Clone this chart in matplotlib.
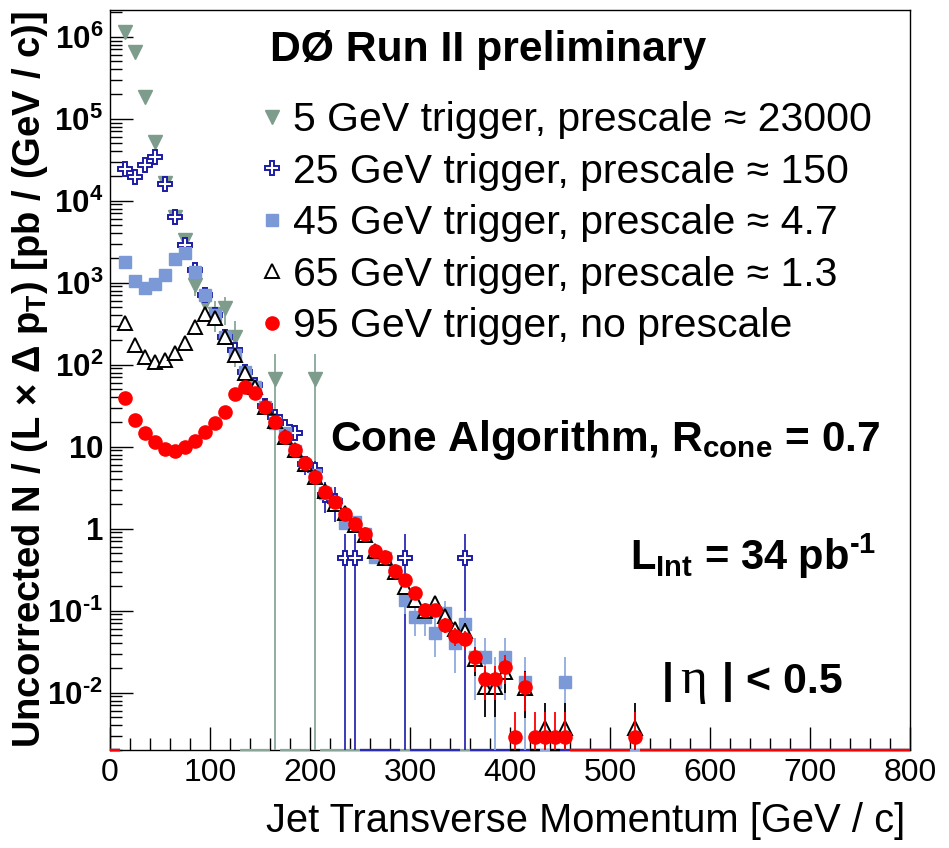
import numpy as np
import matplotlib
matplotlib.use("Agg")
import matplotlib.pyplot as plt
from matplotlib.lines import Line2D
from matplotlib.ticker import FixedLocator, MultipleLocator, LogLocator, FuncFormatter, NullFormatter

plt.rcParams["font.family"] = ["Liberation Sans", "DejaVu Sans"]
plt.rcParams["mathtext.fontset"] = "custom"
plt.rcParams["mathtext.rm"] = "Liberation Sans"
plt.rcParams["mathtext.it"] = "Liberation Sans:italic"
plt.rcParams["mathtext.bf"] = "Liberation Sans:bold"
plt.rcParams["mathtext.fallback"] = "stixsans"

HYPHEN = "\u2010"

# ---- jet pT bin centres [GeV/c] and uncorrected rates [pb/(GeV/c)] per trigger ----
pt_5 = [15, 25, 35, 45, 55, 65, 75, 85, 95, 105, 115, 125, 165, 205]
rate_5 = [1.15e6, 6.45e5, 1.85e5, 5.24e4, 1.64e4, 6380, 3318, 937, 560, 420, 487, 219,
          66.7, 66.7]

pt_25 = [15, 25, 35, 45, 55, 65, 75, 85, 95, 105, 115, 125, 135, 145, 155, 165, 175,
         185, 195, 205, 215, 225, 235, 245, 295, 355]
rate_25 = [24150, 19620, 27240, 33840, 15850, 6380, 2924, 1428, 700, 400, 215, 151, 82,
           56, 31, 23, 17.2, 14.6, 6.1, 5.2, 2.6, 2.2, 0.435, 0.435, 0.435, 0.435]

pt_45 = [15, 25, 35, 45, 55, 65, 75, 85, 95, 105, 115, 125, 135, 145, 155, 165, 175,
         185, 195, 205, 215, 225, 235, 245, 255, 265, 275, 285, 295, 305, 315, 325,
         335, 345, 355, 365, 375, 385, 395, 415, 455]
rate_45 = [1803, 1049, 855, 964, 1241, 1929, 2322, 1339, 708, 404, 216, 131, 82.2, 53.9,
           30.7, 19.6, 14.6, 8.9, 5.98, 4.52, 2.70, 2.08, 1.16, 1.22, 0.861, 0.456, 0.44,
           0.30, 0.135, 0.083, 0.083, 0.054, 0.0946, 0.0407, 0.0689, 0.0275, 0.0275,
           0.0136, 0.0275, 0.0136, 0.0136]

pt_65 = [15, 25, 35, 45, 55, 65, 75, 85, 95, 105, 115, 125, 135, 145, 155, 165, 175,
         185, 195, 205, 215, 225, 235, 245, 255, 265, 275, 285, 295, 305, 315, 325,
         335, 345, 355, 365, 375, 385, 395, 415, 435, 455, 525]
rate_65 = [320, 174, 125, 109, 114, 140, 182, 290, 412, 368, 216, 131, 79.8, 53.9, 30.7,
           20.5, 13.0, 9.2, 6.1, 4.3, 2.9, 2.0, 1.55, 1.12, 0.84, 0.53, 0.44, 0.30, 0.196,
           0.135, 0.10, 0.124, 0.086, 0.059, 0.057, 0.026, 0.0118, 0.0118, 0.018, 0.0115,
           0.0037, 0.0037, 0.0037]

pt_95 = [15, 25, 35, 45, 55, 65, 75, 85, 95, 105, 115, 125, 135, 145, 155, 165, 175,
         185, 195, 205, 215, 225, 235, 245, 255, 265, 275, 285, 295, 305, 315, 325,
         335, 345, 355, 365, 375, 385, 395, 405, 415, 425, 435, 445, 455, 525]
rate_95 = [39.6, 21.2, 14.8, 11.5, 9.4, 8.9, 10.0, 11.7, 15.2, 19.3, 26.3, 43.9, 53.9,
           44.8, 30.5, 20.3, 13.3, 9.0, 6.28, 4.24, 2.83, 2.10, 1.51, 1.14, 0.861, 0.539,
           0.446, 0.305, 0.240, 0.163, 0.102, 0.102, 0.067, 0.0496, 0.0448, 0.0270,
           0.01456, 0.01456, 0.0207, 0.0029, 0.01183, 0.0029, 0.0029, 0.0029, 0.0029,
           0.0029]

labels = ["5 GeV trigger, prescale \u2248 23000",
          "25 GeV trigger, prescale \u2248 150",
          "45 GeV trigger, prescale \u2248 4.7",
          "65 GeV trigger, prescale \u2248 1.3",
          "95 GeV trigger, no prescale"]
prescales = [23000, 150, 4.7, 1.3, 1.0]
single_event_rate = 0.0029   # rate of one unprescaled event per 10 GeV bin

W, H = 949, 848
def fx(p):
    return p / W
def fy(p):
    return 1 - p / H

fig = plt.figure(figsize=(W / 100, H / 100), dpi=100)
ax = fig.add_axes([fx(110), fy(750), 800 / W, 740 / H])
ax.set_xlim(0, 800)
ax.set_yscale("log", nonpositive="clip")
YMIN, YMAX = 2.0e-3, 2.12e6
ax.set_ylim(YMIN, YMAX)

styles = [
    dict(marker="v", ms=10, mfc="#7d9c8c", mec="#7d9c8c", mew=1.0, ecolor="#8aa698"),
    dict(marker="P", ms=10.5, mfc="white", mec="#1c1ca6", mew=1.4, ecolor="#2b2bb3"),
    dict(marker="s", ms=8.5, mfc="#7a99d6", mec="#7a99d6", mew=1.0, ecolor="#8eaadf"),
    dict(marker="^", ms=10, mfc="white", mec="black", mew=1.4, ecolor="black"),
    dict(marker="o", ms=9.5, mfc="#ff0000", mec="#ff0000", mew=1.0, ecolor="#ff0000"),
]
series = [(pt_5, rate_5), (pt_25, rate_25), (pt_45, rate_45), (pt_65, rate_65),
          (pt_95, rate_95)]

bin_centres = np.arange(5, 800, 10)
for k, ((pt, rate), st, ps) in enumerate(zip(series, styles, prescales)):
    pt = np.asarray(pt, float)
    rate = np.asarray(rate, float)
    # Poisson uncertainty from the number of recorded events in each bin
    n_ev = np.maximum(np.round(rate / (single_event_rate * ps)), 1)
    err = rate / np.sqrt(n_ev)
    lo = rate - np.maximum(rate - err, 1e-12)
    st = dict(st)
    ecol = st.pop("ecolor")
    ax.errorbar(pt, rate, yerr=[lo, err], fmt=st.pop("marker"), ls="none",
                ecolor=ecol, elinewidth=1.3, capsize=0, zorder=3 + k, **st)
    # empty bins sit on the lower edge of the frame
    empty = [c for c in bin_centres if not np.any(np.isclose(pt, c))]
    ax.hlines([YMIN] * len(empty), np.array(empty) - 5, np.array(empty) + 5,
              colors=ecol, lw=1.6, clip_on=False, zorder=3 + k)

# axes cosmetics
ax.xaxis.set_major_locator(MultipleLocator(100))
ax.xaxis.set_minor_locator(MultipleLocator(20))
ax.yaxis.set_major_locator(FixedLocator([10.0 ** e for e in range(-2, 7)]))
ax.yaxis.set_minor_locator(LogLocator(base=10, subs=np.arange(2, 10), numticks=30))
ax.yaxis.set_minor_formatter(NullFormatter())

def ylab(v, pos):
    e = int(round(np.log10(v)))
    if e == 0:
        return "$\\mathbf{1}$"
    if e == 1:
        return "$\\mathbf{10}$"
    if e < 0:
        return "$\\mathbf{10^{" + HYPHEN + str(-e) + "}}$"
    return "$\\mathbf{10^{%d}}$" % e

ax.yaxis.set_major_formatter(FuncFormatter(ylab))
ax.tick_params(which="major", direction="in", length=16.5, width=1.0, top=False,
               right=False)
ax.tick_params(which="minor", direction="in", length=8.5, width=1.0, top=False,
               right=False)
ax.tick_params(axis="x", labelsize=23, pad=6)
ax.tick_params(axis="y", labelsize=22.5, pad=5)
for s in ax.spines.values():
    s.set_linewidth(1.0)

fig.text(fx(905), fy(821), "Jet Transverse Momentum [GeV / c]", ha="right",
         va="center", fontsize=28.7)
fig.text(fx(30), fy(380),
         "Uncorrected N / (L \u00d7 \u0394 p$_\\mathbf{T}$) [pb / (GeV / c)]",
         rotation=90, ha="center", va="center", fontsize=27.5, fontweight="bold")

fig.text(fx(270), fy(50), "D\u00d8 Run II preliminary", ha="left", va="center",
         fontsize=30.7, fontweight="bold")
fig.text(fx(880), fy(440), "Cone Algorithm, R$_\\mathbf{cone}$ = 0.7", ha="right",
         va="center", fontsize=30.5, fontweight="bold")
fig.text(fx(876), fy(570), "L$_\\mathbf{Int}$ = 34 pb$^\\mathbf{" + HYPHEN + "1}$",
         ha="right", va="baseline", fontsize=30, fontweight="bold")

# |eta| < 0.5, with the Greek letter set in a serif face
fig.text(fx(662), fy(693), "|", ha="left", va="baseline", fontsize=31,
         fontweight="bold")
fig.text(fx(680), fy(693), "\u03b7", ha="left", va="baseline", fontsize=37,
         family=["Liberation Serif", "DejaVu Serif"])
fig.text(fx(843), fy(693), "| < 0.5", ha="right", va="baseline", fontsize=31,
         fontweight="bold")

handles = []
for st in styles:
    st = dict(st)
    st.pop("ecolor")
    handles.append(Line2D([], [], ls="none", **st))
ax.legend(handles, labels, loc="upper left",
          bbox_to_anchor=(fx(262), fy(101)), bbox_transform=fig.transFigure,
          frameon=False, fontsize=29.5, handlelength=0.5, handletextpad=0.25,
          labelspacing=0.33, borderpad=0, borderaxespad=0)

fig.savefig("out.png", dpi=100)
